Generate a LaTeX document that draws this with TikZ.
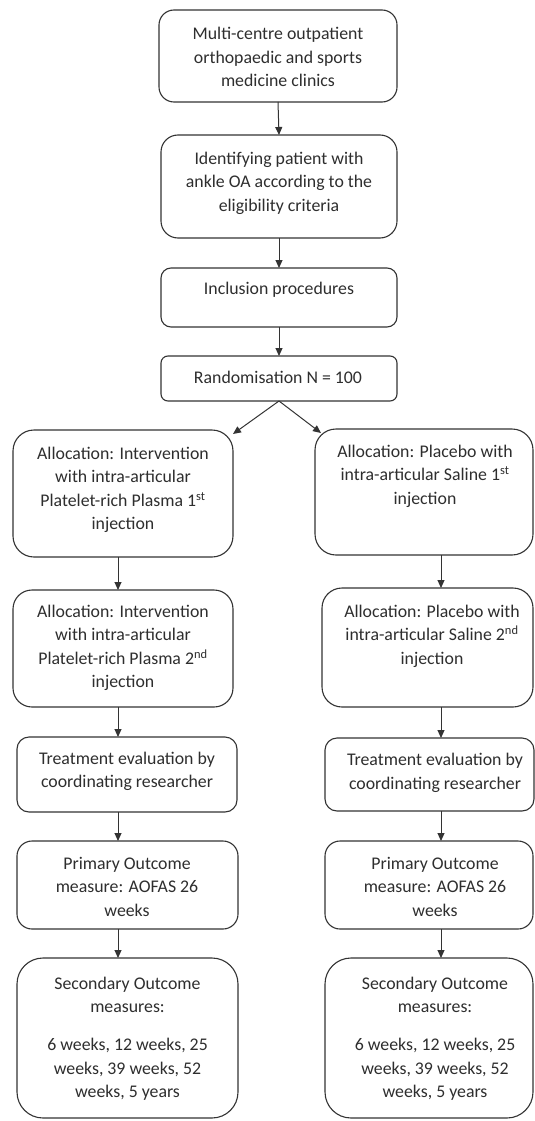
\documentclass[tikz,border=0pt]{standalone}
\usepackage{fontspec}
\setmainfont{Carlito}
\usetikzlibrary{arrows.meta,calc}
\newcommand{\mkbox}[6]{%
  \node[boxst, rounded corners=#6, minimum width={#4pt-#2pt}, minimum height={#5pt-#3pt}]
    (#1) at ({(#2+#4)/2},{(#3+#5)/2}) {};}
\begin{document}
\begin{tikzpicture}[x=1pt,y=-1pt,
  boxst/.style={draw=black!80, line width=1.1pt, inner sep=0pt, outer sep=0pt},
  txt/.style={font=\fontsize{17.8}{23.5}\selectfont, align=center, text=black!82, inner sep=0pt},
  arr/.style={draw=black!80, line width=1pt, -{Triangle[length=8pt,width=7pt]}}]
\useasboundingbox[fill=white] (0,0) rectangle (535,1121);
% center column
\mkbox{B1}{159}{10}{397}{102}{15pt}
\mkbox{B2}{161}{135}{397}{238}{17pt}
\mkbox{B3}{161}{268}{397}{327}{10pt}
\mkbox{B4}{161}{356}{397}{401}{7pt}
% left column
\mkbox{L1}{13}{430}{233}{557}{21pt}
\mkbox{L2}{13}{590}{233}{707}{19pt}
\mkbox{L3}{17}{737}{237}{812}{12pt}
\mkbox{L4}{17}{841}{238}{929}{15pt}
\mkbox{L5}{17}{958}{238}{1118}{26pt}
% right column
\mkbox{R1}{315}{429}{533}{555}{21pt}
\mkbox{R2}{322}{588}{533}{707}{20pt}
\mkbox{R3}{325}{738}{534}{811}{12pt}
\mkbox{R4}{325}{841}{533}{929}{15pt}
\mkbox{R5}{325}{958}{533}{1118}{26pt}
% texts
\node[txt] (tB1) at (278,57) {Multi-centre outpatient\\orthopaedic and sports\\medicine clinics};
\node[txt] (tB2) at (279,183) {Identifying patient with\\ankle OA according to the\\eligibility criteria};
\node[txt] (tB3) at (279,290) {Inclusion procedures};
\node[txt] (tB4) at (278,377) {Randomisation N = 100};
\node[txt] (tL1) at (123,490) {Allocation: Intervention\\with intra-articular\\Platelet-rich Plasma 1\textsuperscript{st}\\injection};
\node[txt] (tR1) at (425,476) {Allocation: Placebo with\\intra-articular Saline 1\textsuperscript{st}\\injection};
\node[txt] (tL2) at (123,648) {Allocation: Intervention\\with intra-articular\\Platelet-rich Plasma 2\textsuperscript{nd}\\injection};
\node[txt] (tR2) at (432,636) {Allocation: Placebo with\\intra-articular Saline 2\textsuperscript{nd}\\injection};
\node[txt] (tL3) at (127,771.5) {Treatment evaluation by\\coordinating researcher};
\node[txt] (tR3) at (435,773) {Treatment evaluation by\\coordinating researcher};
\node[txt] (tL4) at (127,886.5) {Primary Outcome\\measure: AOFAS 26\\weeks};
\node[txt] (tR4) at (435,886.5) {Primary Outcome\\measure: AOFAS 26\\weeks};
\node[txt] (tL5) at (127.5,1038.5) {Secondary Outcome\\measures:\\[14.5pt]6 weeks, 12 weeks, 25\\weeks, 39 weeks, 52\\weeks, 5 years};
\node[txt] (tR5) at (435,1038.5) {Secondary Outcome\\measures:\\[14.5pt]6 weeks, 12 weeks, 25\\weeks, 39 weeks, 52\\weeks, 5 years};
% connectors
\coordinate (lc) at (118,0);
\coordinate (rc) at (441,0);
\draw[arr] (B1.south) -- (B2.north);
\draw[arr] (B2.south) -- (B3.north);
\draw[arr] (B3.south) -- (B4.north);
\draw[arr] (B4.south) -- ($(L1.north east)+(0,4)$);
\draw[arr] (B4.south) -- ($(R1.north west)+(6,4)$);
\draw[arr] (L1.south -| lc) -- (L2.north -| lc);
\draw[arr] (L2.south -| lc) -- (L3.north -| lc);
\draw[arr] (L3.south -| lc) -- (L4.north -| lc);
\draw[arr] (L4.south -| lc) -- (L5.north -| lc);
\draw[arr] (R1.south -| rc) -- (R2.north -| rc);
\draw[arr] (R2.south -| rc) -- (R3.north -| rc);
\draw[arr] (R3.south -| rc) -- (R4.north -| rc);
\draw[arr] (R4.south -| rc) -- (R5.north -| rc);
\end{tikzpicture}
\end{document}
